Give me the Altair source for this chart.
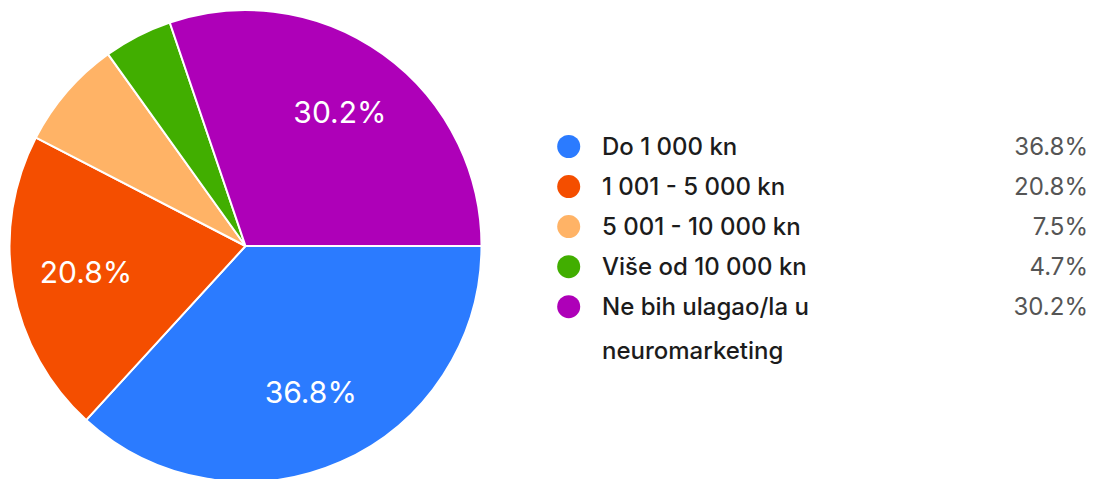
import math
import altair as alt
import pandas as pd

categories = ["Do 1 000 kn", "1 001 - 5 000 kn", "5 001 - 10 000 kn", "Više od 10 000 kn", "Ne bih ulagao/la u\nneuromarketing"]
values = [36.8, 20.8, 7.5, 4.7, 30.2]
colors = ["#2B7BFF", "#F44E00", "#FFB366", "#41AE00", "#AE00B8"]

df = pd.DataFrame({
    "cat": categories,
    "value": values,
    "order": list(range(len(categories))),
    "pct": [f"{v:.1f}%" for v in values],
    "pie_label": [f"{v:.1f}%" if v >= 10 else "" for v in values],
})

W, H = 1080, 471
cx, cy = 237.5, 238
R = 236
FONT = "Inter"

theta = alt.Theta("value:Q", stack=True,
                  scale=alt.Scale(range=[math.pi / 2, math.pi / 2 + 2 * math.pi]))
color = alt.Color("cat:N", scale=alt.Scale(domain=categories, range=colors), legend=None)
order = alt.Order("order:Q")

base = alt.Chart(df)

arcs = base.mark_arc(outerRadius=R, stroke="white", strokeWidth=2).encode(
    theta=theta, color=color, order=order,
    x=alt.value(cx), y=alt.value(cy),
)

pie_text = base.mark_text(radius=162, fontSize=30, color="white", font=FONT,
                          align="center", baseline="middle").encode(
    theta=theta, order=order, text="pie_label:N",
    x=alt.value(cx), y=alt.value(cy),
)

yrow = alt.Y("order:Q", scale=alt.Scale(domain=[0, 4], range=[138.5, 298.7]), axis=None)

dots = base.mark_point(filled=True, shape="circle", size=530, opacity=1).encode(
    x=alt.value(560.7), y=yrow, color=color,
)

labels = base.mark_text(align="left", baseline="alphabetic", dy=8, fontSize=24,
                        font=FONT, fontWeight=500, color="#1c1c1c",
                        lineBreak="\n", lineHeight=44).encode(
    x=alt.value(594), y=yrow, text="cat:N",
)

pcts = base.mark_text(align="right", baseline="alphabetic", dy=8, fontSize=24,
                      font=FONT, color="#555555").encode(
    x=alt.value(1080), y=yrow, text="pct:N",
)

chart = alt.layer(arcs, pie_text, dots, labels, pcts).properties(
    width=W, height=H, padding=0,
    autosize=alt.AutoSizeParams(type="none"),
).configure_view(stroke=None)

chart.save("out.html", embed_options={"renderer": "svg", "actions": False})
